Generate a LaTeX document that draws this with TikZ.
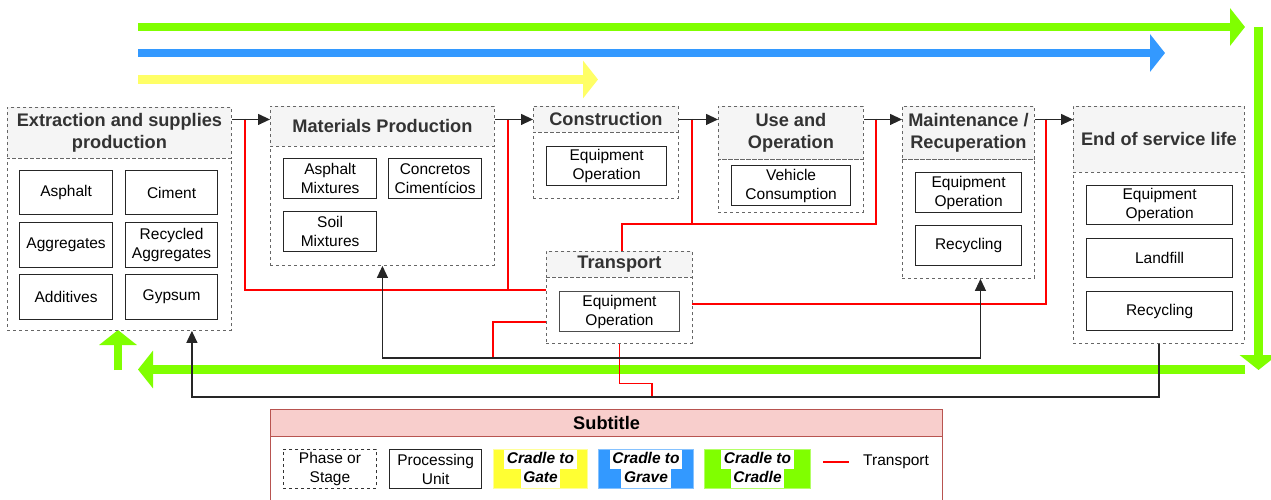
\documentclass[tikz,border=0pt]{standalone}
\usepackage{fontspec}
\setmainfont{Liberation Sans}
\usetikzlibrary{arrows.meta,calc}

\definecolor{headgray}{HTML}{F5F5F5}
\definecolor{dashgray}{HTML}{666666}
\definecolor{headtext}{HTML}{333333}
\definecolor{gateyellow}{HTML}{FFFF66}
\definecolor{keyyellow}{HTML}{FFFF33}
\definecolor{graveblue}{HTML}{3399FF}
\definecolor{cradlegreen}{HTML}{80FF00}
\definecolor{legfill}{HTML}{F8CECC}
\definecolor{legline}{HTML}{B85450}

\newcommand\headfont{\fontsize{18.2}{22}\selectfont\bfseries}
\newcommand\unitfont{\fontsize{15.5}{19}\selectfont}
\newcommand\whitebg[1]{{\setlength\fboxsep{0pt}\colorbox{white}{\strut\,#1\,}}}

\begin{document}
\begin{tikzpicture}[x=1pt,y=-1pt,
    >={Triangle[length=12pt,width=11pt]},
    phasehead/.style={draw=dashgray, dashed, line width=0.9pt, fill=headgray, anchor=north west,
        inner sep=0pt, align=center, text=headtext, font=\headfont},
    phasebody/.style={draw=dashgray, dashed, line width=0.9pt, anchor=north west, inner sep=0pt},
    unitbox/.style={draw=black!85, line width=1.2pt, anchor=north west, inner sep=0pt,
        align=center, font=\unitfont},
    cradlekey/.style={anchor=north west, inner sep=0pt, line width=1pt, minimum height=39pt,
        align=center, font=\unitfont\bfseries\itshape},
    flow/.style={black!85, line width=1.2pt, ->},
    transp/.style={red, line width=1.1pt},
    bigarrow/.style={line width=8.5pt, -{Triangle[length=15pt,width=37pt]}}]
    \useasboundingbox (0,0) rectangle (1271,500);

    % Draw life cycle scopes
    \draw[bigarrow, cradlegreen] (138,27) -- (1245,27);
    \draw[bigarrow, graveblue] (138,53) -- (1165,53);
    \draw[bigarrow, gateyellow] (138,79.5) -- (598,79.5);
    \draw[bigarrow, cradlegreen] (1258.5,27) -- (1258.5,370);
    \draw[bigarrow, cradlegreen] (1245,369.5) -- (138,369.5);
    \draw[bigarrow, cradlegreen] (118,370) -- (118,330);

    % Draw phases
    \node[phasehead, minimum width=224pt, minimum height=51pt] (extrhead) at (7,107) {Extraction and supplies\\production};
    \node[phasebody, minimum width=224pt, minimum height=172pt] (extrbody) at (7,158) {};
    \node[phasehead, minimum width=224pt, minimum height=40pt] (mathead) at (270,106) {Materials Production};
    \node[phasebody, minimum width=224pt, minimum height=119pt] (matbody) at (270,146) {};
    \node[phasehead, minimum width=145pt, minimum height=26pt] (conshead) at (533,106) {Construction};
    \node[phasebody, minimum width=145pt, minimum height=66pt] (consbody) at (533,132) {};
    \node[phasehead, minimum width=145pt, minimum height=53pt] (usehead) at (718,106) {Use and\\Operation};
    \node[phasebody, minimum width=145pt, minimum height=53pt] (usebody) at (718,159) {};
    \node[phasehead, minimum width=132pt, minimum height=53pt] (mainthead) at (902,106) {Maintenance /\\Recuperation};
    \node[phasebody, minimum width=132pt, minimum height=119pt] (maintbody) at (902,159) {};
    \node[phasehead, minimum width=171pt, minimum height=66pt] (eolhead) at (1073,106) {End of service life};
    \node[phasebody, minimum width=171pt, minimum height=171pt] (eolbody) at (1073,172) {};
    \node[phasehead, minimum width=146pt, minimum height=26pt] (trhead) at (546,251) {Transport};
    \node[phasebody, minimum width=146pt, minimum height=66pt] (trbody) at (546,277) {};

    % Draw processing units
    \node[unitbox, minimum width=93pt, minimum height=44pt] (asph) at (19,170) {Asphalt};
    \node[unitbox, minimum width=92pt, minimum height=44pt] (cim) at (125,170) {Ciment};
    \node[unitbox, minimum width=93pt, minimum height=45pt] (aggr) at (19,222) {Aggregates};
    \node[unitbox, minimum width=92pt, minimum height=45pt] (recaggr) at (125,222) {Recycled\\Aggregates};
    \node[unitbox, minimum width=93pt, minimum height=45pt] (addit) at (19,274) {Additives};
    \node[unitbox, minimum width=92pt, minimum height=45pt] (gyps) at (125,274) {Gypsum};
    \node[unitbox, minimum width=93pt, minimum height=40pt] (asphmix) at (283,158) {Asphalt\\Mixtures};
    \node[unitbox, minimum width=93pt, minimum height=40pt] (concr) at (388,158) {Concretos\\Ciment\'icios};
    \node[unitbox, minimum width=93pt, minimum height=40pt] (soilmix) at (283,211) {Soil\\Mixtures};
    \node[unitbox, minimum width=120pt, minimum height=39pt] (consequip) at (546,146) {Equipment\\Operation};
    \node[unitbox, minimum width=119pt, minimum height=40pt] (vehic) at (731,165) {Vehicle\\Consumption};
    \node[unitbox, minimum width=106pt, minimum height=40pt] (maintequip) at (915,172) {Equipment\\Operation};
    \node[unitbox, minimum width=106pt, minimum height=40pt] (maintrec) at (915,225) {Recycling};
    \node[unitbox, minimum width=146pt, minimum height=39pt] (eolequip) at (1086,185) {Equipment\\Operation};
    \node[unitbox, minimum width=146pt, minimum height=39pt] (landf) at (1086,238) {Landfill};
    \node[unitbox, minimum width=146pt, minimum height=39pt] (eolrec) at (1086,291) {Recycling};
    \node[unitbox, draw=black!70, line width=1pt, minimum width=120pt, minimum height=40pt] (trequip) at (559,291) {Equipment\\Operation};

    % Draw transport links
    \coordinate (rA) at (245,119);
    \coordinate (rB) at (508,119);
    \coordinate (rC) at (692,119);
    \coordinate (rD) at (876,119);
    \coordinate (rE) at (1046,119);
    \coordinate (rL) at (546,290);
    \coordinate (rM) at (622,224);
    \coordinate (rR) at (692,304);
    \coordinate (rT) at (493,322);
    \coordinate (rU) at (652,396);
    \draw[transp] (rA) |- (rL);
    \draw[transp] (rB) -- (rB |- rL);
    \draw[transp] (rC) -- (rC |- rM);
    \draw[transp] (rD) |- (rM) -- (rM |- trhead.north);
    \draw[transp] (rE) |- (rR);
    \draw[transp] (trbody.west |- rT) -- (rT) -- ++(0,35);
    \draw[transp] (trbody.south) -- ++(0,40) -| (rU);

    % Draw phase sequence
    \draw[flow] (extrhead.east |- conshead) -- (mathead.west |- conshead);
    \draw[flow] (mathead.east |- conshead) -- (conshead.west);
    \draw[flow] (conshead.east) -- (usehead.west |- conshead);
    \draw[flow] (usehead.east |- conshead) -- (mainthead.west |- conshead);
    \draw[flow] (mainthead.east |- conshead) -- (eolhead.west |- conshead);
    \draw[flow, <->] (matbody.south) -- ++(0,92) -| ($(maintbody.south)+(12,0)$);
    \draw[flow] (eolbody.south) -- ++(0,53) -| ($(extrbody.south east)+(-40,0)$);

    % Draw subtitle
    \node[draw=legline, line width=1.2pt, fill=legfill, anchor=north west, inner sep=0pt,
        minimum width=672pt, minimum height=27pt, font=\headfont] (leghead) at (270,409) {Subtitle};
    \node[draw=legline, line width=1.2pt, fill=white, anchor=north west, inner sep=0pt,
        minimum width=672pt, minimum height=80pt] (legbody) at (270,436) {};
    \node[phasebody, draw=black!80, font=\unitfont, align=center, minimum width=93pt, minimum height=39pt] (keyphase) at (283,449) {Phase or\\Stage};
    \node[unitbox, minimum width=92pt, minimum height=39pt] (keyunit) at (389,449) {Processing\\Unit};
    \node[cradlekey, fill=keyyellow, draw=keyyellow!50!white, minimum width=94pt] (keygate) at (493,449) {\whitebg{Cradle to}\\\whitebg{Gate}};
    \node[cradlekey, fill=graveblue, draw=graveblue!60!white, minimum width=95pt] (keygrave) at (598,449) {\whitebg{Cradle to}\\\whitebg{Grave}};
    \node[cradlekey, fill=cradlegreen, draw=cradlegreen!60!white, minimum width=106pt] (keycradle) at (704,449) {\whitebg{Cradle to}\\\whitebg{Cradle}};
    \node[anchor=west, inner sep=0pt, font=\unitfont] (keytransp) at (863,462) {Transport};
    \draw[transp] ($(keytransp.west)+(-40,0)$) -- ($(keytransp.west)+(-14,0)$);
\end{tikzpicture}
\end{document}
